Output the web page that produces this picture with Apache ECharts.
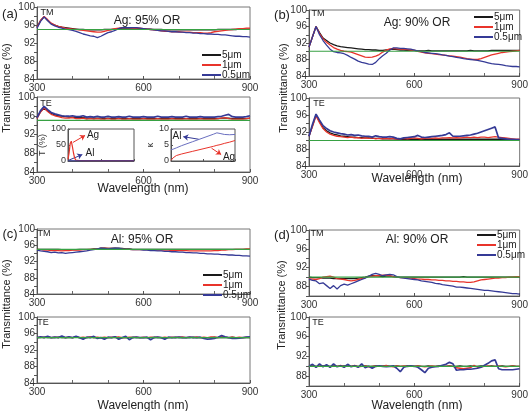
<!DOCTYPE html>
<html><head><meta charset="utf-8">
<script src="https://cdn.jsdelivr.net/npm/echarts@6/dist/echarts.min.js"></script>
<style>html,body{margin:0;padding:0;background:#fff}#c{width:531px;height:411px}</style>
</head><body><div id="c"></div>
<script>
// ---------- DATA ----------
const WL = [300,310,320,330,340,350,360,370,380,390,
  400,410,420,430,440,450,460,470,480,490,
  500,510,520,530,540,550,560,570,580,590,
  600,610,620,630,640,650,660,670,680,690,
  700,710,720,730,740,750,760,770,780,790,
  800,810,820,830,840,850,860,870,880,890,900];
const SERIES_NAMES = ['5μm','1μm','0.5μm'];
const refLevels = [95, 90, 95, 90]; // Ag95, Ag90, Al95, Al90

// (a) Ag 95% TM
const agTM95_5 = [95.5,97.0,97.8,97.0,96.3,96.0,95.7,95.5,95.4,95.3,
  95.2,95.1,95.0,95.0,94.9,94.9,94.9,94.9,94.9,95.0,
  95.0,95.0,95.1,95.2,95.3,95.3,95.3,95.3,95.3,95.2,
  95.2,95.1,95.1,95.0,95.0,95.0,94.9,94.9,94.9,94.9,
  94.9,94.9,94.9,94.9,94.9,94.9,94.9,94.9,94.9,94.9,
  94.9,95.0,95.0,95.0,95.0,95.0,95.0,95.1,95.1,95.1,95.1];
const agTM95_1 = [95.5,97.0,97.9,97.2,96.4,96.0,95.7,95.5,95.3,95.2,
  95.1,95.0,94.9,94.8,94.7,94.6,94.5,94.4,94.4,94.6,
  94.8,95.0,95.2,95.3,95.4,95.4,95.4,95.3,95.3,95.3,
  95.2,95.1,95.0,94.9,94.8,94.7,94.6,94.6,94.5,94.5,
  94.5,94.4,94.4,94.4,94.3,94.3,94.3,94.2,94.2,94.3,
  94.5,94.6,94.7,94.8,94.9,95.0,95.1,95.2,95.2,95.3,95.3];
const agTM95_05 = [95.3,96.8,97.8,97.0,96.2,95.8,95.5,95.3,95.1,95.0,
  94.8,94.6,94.3,94.0,93.8,93.6,93.5,93.2,93.5,93.9,
  94.3,94.5,94.8,95.2,95.4,95.4,95.4,95.4,95.4,95.3,
  95.2,95.1,95.0,94.9,94.8,94.7,94.7,94.6,94.5,94.5,
  94.4,94.4,94.3,94.3,94.2,94.2,94.1,94.1,94.0,94.0,
  93.9,93.9,93.8,93.8,93.7,93.6,93.5,93.5,93.4,93.4,93.3];
// (a) Ag 95% TE
const agTE95_5 = [95.5,96.9,97.6,97.0,96.5,96.2,96.0,95.9,95.8,95.7,
  95.7,95.6,95.6,95.6,95.5,95.5,95.5,95.5,95.5,95.4,
  95.5,95.4,95.4,95.5,95.4,95.4,95.4,95.4,95.4,95.4,
  95.4,95.4,95.4,95.4,95.4,95.4,95.4,95.4,95.4,95.4,
  95.4,95.4,95.4,95.4,95.4,95.4,95.4,95.4,95.4,95.4,
  95.4,95.4,95.5,95.5,95.5,95.4,95.4,95.4,95.4,95.4,95.5];
const agTE95_1 = [95.4,96.8,97.7,96.9,96.3,96.0,95.8,95.6,95.5,95.5,
  95.6,95.4,95.4,95.5,95.3,95.4,95.3,95.4,95.3,95.3,
  95.4,95.3,95.3,95.4,95.3,95.3,95.4,95.3,95.3,95.3,
  95.4,95.3,95.3,95.3,95.4,95.3,95.3,95.3,95.4,95.3,
  95.3,95.3,95.4,95.3,95.3,95.3,95.4,95.3,95.3,95.3,
  95.3,95.4,95.5,95.6,95.4,95.3,95.3,95.3,95.3,95.4,95.5];
const agTE95_05 = [95.6,97.1,98.0,97.3,96.7,96.4,96.2,96.0,95.9,95.9,
  96.0,95.8,95.8,96.0,95.7,95.8,95.7,95.9,95.7,95.7,
  95.9,95.7,95.7,95.8,95.7,95.7,95.9,95.7,95.7,95.7,
  95.8,95.7,95.7,95.7,95.9,95.7,95.7,95.7,95.8,95.7,
  95.7,95.7,95.9,95.7,95.7,95.7,95.8,95.7,95.7,95.7,
  95.7,95.8,95.9,96.1,96.3,95.8,95.7,95.7,95.7,95.8,96.0];
// (b) Ag 90% TM
const agTM90_5 = [91.0,93.5,96.0,94.5,93.2,92.6,92.0,91.6,91.3,91.1,
  91.0,90.9,90.8,90.7,90.6,90.5,90.4,90.4,90.3,90.3,
  90.2,90.2,90.3,90.4,90.5,90.4,90.3,90.3,90.2,90.2,
  90.2,90.1,90.1,90.1,90.2,90.1,90.1,90.1,90.1,90.1,
  90.1,90.1,90.1,90.1,90.1,90.1,90.2,90.1,90.1,90.1,
  90.1,90.1,90.2,90.2,90.2,90.2,90.2,90.2,90.2,90.2,90.2];
const agTM90_1 = [91.0,93.5,96.0,94.3,93.0,92.2,91.5,90.9,90.5,90.2,
  90.0,89.9,89.8,89.5,89.2,88.9,88.6,88.5,88.6,88.8,
  89.2,89.8,90.3,90.6,90.7,90.6,90.5,90.5,90.4,90.3,
  90.2,90.0,89.8,89.6,89.5,89.4,89.3,89.2,89.1,89.0,
  88.9,88.8,88.7,88.6,88.4,88.2,88.1,88.0,88.0,88.2,
  88.5,88.8,89.1,89.3,89.5,89.7,89.8,89.9,90.0,90.1,90.2];
const agTM90_05 = [91.0,93.5,96.0,94.0,92.6,91.5,90.5,89.9,89.7,89.6,
  89.4,89.0,88.5,88.1,87.6,87.3,87.1,86.9,86.8,87.3,
  88.2,88.9,89.5,90.3,90.8,90.8,90.7,90.7,90.6,90.5,
  90.3,90.1,89.9,89.7,89.6,89.5,89.4,89.3,89.1,89.0,
  88.8,88.7,88.5,88.4,88.2,88.1,88.0,87.9,87.8,87.6,
  87.4,87.2,87.0,86.9,86.8,86.7,86.5,86.4,86.3,86.3,86.2];
// (b) Ag 90% TE
const agTE90_5 = [91.0,93.5,96.0,94.5,93.0,92.3,91.8,91.5,91.3,91.1,
  91.0,90.9,90.8,90.8,90.7,90.7,90.6,90.6,90.5,90.5,
  90.5,90.4,90.4,90.4,90.4,90.3,90.3,90.3,90.3,90.3,
  90.3,90.3,90.3,90.3,90.3,90.3,90.3,90.3,90.3,90.3,
  90.3,90.3,90.3,90.3,90.3,90.3,90.3,90.3,90.3,90.3,
  90.3,90.3,90.3,90.3,90.3,90.3,90.2,90.2,90.2,90.2,90.2];
const agTE90_1 = [91.0,93.3,95.8,94.2,92.8,92.0,91.5,91.2,91.0,90.9,
  90.8,90.7,90.8,90.6,90.7,90.5,90.6,90.5,90.6,90.4,
  90.5,90.4,90.5,90.4,90.5,90.3,90.4,90.5,90.4,90.5,
  90.6,90.5,90.4,90.5,90.6,90.5,90.6,90.5,90.6,90.6,
  90.7,90.6,90.7,90.6,90.7,90.8,90.7,90.8,90.7,90.8,
  90.8,90.7,90.8,90.9,90.8,90.7,90.6,90.5,90.4,90.3,90.3];
const agTE90_05 = [91.0,93.8,96.2,94.8,93.5,92.8,92.3,92.0,91.8,91.6,
  91.5,91.3,91.4,91.2,91.3,91.1,91.0,91.0,90.8,91.1,
  90.9,90.8,90.8,90.9,90.8,90.5,90.4,90.6,90.7,90.8,
  90.9,91.2,90.8,90.7,90.8,90.9,91.0,91.1,91.2,91.4,
  91.8,91.0,91.0,91.0,91.1,91.2,91.3,91.5,91.7,92.0,
  92.3,92.6,92.9,93.2,90.6,90.5,90.4,90.3,90.3,90.2,90.2];
// (c) Al 95% TM
const alTM95_5 = [95.0,95.0,95.0,95.0,95.0,95.0,95.0,94.9,94.9,94.9,
  94.9,94.9,95.0,95.0,95.0,95.0,95.1,95.1,95.3,95.3,
  95.2,95.2,95.3,95.3,95.2,95.1,95.1,95.0,95.0,95.0,
  95.0,95.0,95.0,95.0,95.0,95.0,95.0,95.0,95.0,95.0,
  95.0,95.0,95.0,95.0,95.0,95.0,95.0,95.0,95.0,95.0,
  95.0,95.0,95.0,95.0,95.0,95.0,95.0,95.0,95.0,95.0,95.0];
const alTM95_1 = [95.0,94.9,94.8,94.8,94.7,94.7,94.7,94.6,94.7,94.7,
  94.8,94.8,94.8,94.9,94.9,95.0,95.0,95.1,95.2,95.3,
  95.2,95.2,95.2,95.1,95.1,95.0,95.0,94.9,94.9,94.9,
  94.9,94.9,94.8,94.8,94.8,94.8,94.8,94.8,94.7,94.7,
  94.7,94.7,94.7,94.6,94.6,94.6,94.6,94.6,94.6,94.6,
  94.7,94.7,94.8,94.8,94.9,94.9,95.0,95.0,95.0,95.1,95.1];
const alTM95_05 = [94.8,94.6,94.5,94.4,94.2,94.3,94.1,94.2,94.0,94.1,
  94.2,94.3,94.4,94.5,94.6,94.8,94.9,95.1,95.3,95.2,
  95.1,95.2,95.3,95.2,95.1,95.0,95.0,94.9,94.9,94.9,
  94.8,94.8,94.7,94.7,94.6,94.6,94.5,94.5,94.4,94.4,
  94.3,94.3,94.2,94.2,94.1,94.1,94.0,94.0,93.9,93.9,
  93.8,93.8,93.7,93.7,93.6,93.6,93.5,93.5,93.4,93.4,93.3];
// (c) Al 95% TE
const alTE95_5 = [95.0,95.0,95.1,95.0,95.0,95.0,95.1,95.0,95.0,95.0,
  95.0,95.1,95.0,95.0,95.0,95.1,95.0,95.0,95.0,95.0,
  95.0,95.0,95.1,95.0,95.0,95.0,95.0,95.1,95.0,95.0,
  95.0,95.0,95.0,95.1,95.0,95.0,95.0,95.0,95.0,95.1,
  95.0,95.0,95.0,95.0,95.1,95.0,95.0,95.0,95.0,95.0,
  95.1,95.0,95.0,95.0,95.0,95.1,95.0,95.0,95.0,95.0,95.0];
const alTE95_1 = [95.0,95.1,95.0,95.2,95.0,95.1,95.0,95.2,95.0,95.1,
  95.0,95.1,95.0,95.1,95.0,95.2,95.0,95.1,95.0,95.1,
  95.0,95.1,95.0,95.2,95.0,95.0,95.1,95.0,95.1,95.0,
  95.1,95.0,95.1,95.0,95.1,95.0,95.1,95.0,95.1,95.0,
  95.1,95.2,95.0,95.1,95.0,95.2,95.0,95.1,95.0,95.2,
  95.1,95.0,95.3,95.1,95.0,95.1,95.0,95.1,95.0,95.1,95.0];
const alTE95_05 = [95.0,95.2,95.0,95.3,95.0,95.1,95.0,95.4,95.0,95.2,
  95.0,95.3,95.0,94.6,95.1,95.0,95.3,94.8,95.0,94.6,
  95.1,95.0,95.2,94.6,95.0,95.3,94.5,95.0,95.1,95.0,
  95.0,95.1,94.5,95.0,95.1,95.0,94.6,95.1,95.0,95.0,
  95.1,95.0,95.0,95.1,95.0,95.0,95.1,94.8,94.6,94.7,
  94.8,95.1,95.5,95.2,95.0,94.8,94.8,94.9,95.0,95.1,95.2];
// (d) Al 90% TM
const alTM90_5 = [90.0,89.9,89.9,89.9,89.8,89.8,89.8,89.7,89.7,89.7,
  89.7,89.7,89.7,89.7,89.8,89.9,90.0,90.2,90.3,90.3,
  90.2,90.1,90.2,90.2,90.1,90.0,90.0,90.0,90.0,90.0,
  90.0,90.0,90.0,90.0,90.0,90.0,90.0,90.0,90.0,90.0,
  90.0,90.0,90.0,90.0,90.1,90.0,90.0,90.0,90.0,90.0,
  90.0,90.0,90.0,90.0,90.0,90.0,90.0,90.0,90.0,90.0,90.0];
const alTM90_1 = [89.7,89.6,89.5,89.7,90.0,90.1,90.2,90.0,89.7,89.6,
  89.5,89.3,89.2,89.3,89.5,89.7,89.9,90.1,90.2,90.3,
  90.3,90.4,90.4,90.3,90.1,90.0,89.9,89.9,89.8,89.8,
  89.7,89.6,89.6,89.5,89.5,89.4,89.4,89.3,89.3,89.2,
  89.2,89.1,89.1,89.0,89.0,88.9,88.9,89.0,89.2,89.4,
  89.5,89.6,89.7,89.8,89.8,89.9,89.9,90.0,90.0,90.1,90.1];
const alTM90_05 = [89.6,89.3,89.2,88.6,88.8,88.2,87.6,88.2,87.5,88.2,
  88.5,88.3,88.6,88.9,89.2,89.5,89.8,90.2,90.6,90.8,
  90.6,90.3,90.5,90.6,90.5,90.1,89.9,89.8,89.7,89.6,
  89.5,89.4,89.2,89.1,89.0,88.9,88.7,88.6,88.4,88.3,
  88.2,88.1,87.9,87.9,87.8,87.7,87.6,87.5,87.4,87.3,
  87.2,87.2,87.1,87.0,86.9,86.8,86.7,86.6,86.5,86.5,86.4];
// (d) Al 90% TE
const alTE90_5 = [90.0,90.1,90.0,90.0,90.1,90.0,90.0,90.1,90.0,90.0,
  90.1,90.0,90.0,90.1,90.0,90.0,90.1,90.0,90.0,90.1,
  90.0,90.0,90.1,90.0,90.0,90.1,90.0,90.0,90.1,90.0,
  90.0,90.1,90.0,90.0,90.1,90.0,90.0,90.1,90.0,90.0,
  90.1,90.0,90.0,90.1,90.0,90.0,90.1,90.0,90.0,90.1,
  90.0,90.0,90.1,90.0,90.0,90.1,90.0,90.0,90.1,90.0,90.0];
const alTE90_1 = [90.0,90.2,89.9,90.1,90.0,90.2,89.9,90.1,90.0,90.2,
  89.9,90.1,90.0,90.2,89.9,90.0,90.1,89.9,90.0,90.1,
  90.0,90.1,90.2,90.0,89.9,90.1,90.0,90.1,90.0,90.1,
  90.0,90.1,90.0,89.9,90.0,90.1,90.0,90.0,90.1,90.0,
  90.1,90.0,89.7,89.6,89.5,89.6,89.7,90.2,89.8,89.9,
  90.0,90.1,90.0,90.0,90.1,90.0,89.9,90.0,90.1,90.0,90.0];
const alTE90_05 = [90.0,90.4,89.8,90.5,89.9,90.3,89.8,90.5,89.9,90.1,
  89.8,90.4,89.9,90.1,89.8,90.5,89.7,90.0,89.6,90.0,
  90.1,90.0,89.9,90.0,90.1,89.6,88.9,89.8,90.0,90.1,
  90.0,89.8,89.3,88.7,89.6,89.8,89.9,90.0,90.2,90.4,
  90.8,90.5,89.2,89.3,89.3,89.4,89.4,89.5,89.6,89.8,
  90.2,90.6,91.1,91.3,89.5,89.3,89.3,89.3,89.3,89.4,89.5];

// insets: transmission T(%) of thin films, and extinction coefficient k
const insetWL = [300,310,320,330,340,350,360,370,380,400,450,500,600,700,800,900];
const agT = [5,25,55,62,45,25,10,3,2,1.5,1.2,1,1,1,1,1];
const alT = [0.5,0.5,0.5,0.5,0.5,0.5,0.5,0.5,0.5,0.5,0.5,0.5,0.5,0.5,0.5,0.5];
const kWL = [300,310,320,330,350,400,500,600,700,730,760,800,850,900];
const alK = [3.5,3.6,3.7,3.8,4.1,4.8,6.0,7.2,8.4,8.8,8.6,8.3,8.2,8.3];
const agK = [0.2,0.6,1.0,1.3,1.7,2.2,3.0,3.8,4.6,4.9,5.1,5.5,5.9,6.4];

// ---------- CHART ----------
const FONT = 'Liberation Sans, Arial, sans-serif';
const COLORS = ['#1a1a1a', '#e8342b', '#353a96'];
const GREEN = '#37a143';
const pairs = (xs, ys) => xs.map((x, i) => [x, ys[i]]);

const panels = [
  {g:{left:37, top:7,   width:213, height:72}, ymin:84, ref:0, d:[agTM95_5, agTM95_1, agTM95_05], te:false},
  {g:{left:37, top:97,  width:213, height:75}, ymin:84, ref:0, d:[agTE95_5, agTE95_1, agTE95_05], te:true},
  {g:{left:309,top:10,  width:214, height:66}, ymin:84, ref:1, d:[agTM90_5, agTM90_1, agTM90_05], te:false},
  {g:{left:309,top:98,  width:214, height:68}, ymin:84, ref:1, d:[agTE90_5, agTE90_1, agTE90_05], te:true},
  {g:{left:37, top:229, width:213, height:65}, ymin:84, ref:2, d:[alTM95_5, alTM95_1, alTM95_05], te:false},
  {g:{left:37, top:317, width:213, height:66}, ymin:84, ref:2, d:[alTE95_5, alTE95_1, alTE95_05], te:true},
  {g:{left:309,top:230, width:214, height:66}, ymin:86, ref:3, d:[alTM90_5, alTM90_1, alTM90_05], te:false},
  {g:{left:309,top:317, width:214, height:69}, ymin:86, ref:3, d:[alTE90_5, alTE90_1, alTE90_05], te:true}
];

const grids = [], xAxes = [], yAxes = [], series = [];
panels.forEach((p, i) => {
  grids.push(Object.assign({show:true, borderColor:'#777', borderWidth:1, backgroundColor:'#fff'}, p.g));
  xAxes.push({type:'value', gridIndex:i, min:300, max:900, interval:300,
    axisLine:{lineStyle:{color:'#555'}}, axisTick:{inside:true, length:3, lineStyle:{color:'#555'}},
    minorTick:{show:true, splitNumber:3, length:3, lineStyle:{color:'#666'}},
    axisLabel:{fontSize:10, color:'#333', margin:4, fontFamily:FONT},
    splitLine:{show:false}});
  yAxes.push({type:'value', gridIndex:i, min:p.ymin, max:100, interval:2,
    axisLine:{lineStyle:{color:'#555'}}, axisTick:{length:3, lineStyle:{color:'#555'}},
    axisLabel:{fontSize:10, color:'#333', margin:2, fontFamily:FONT, formatter:v => (v % 4 === 0 ? String(v) : '')},
    splitLine:{show:false}});
  p.d.forEach((vals, k) => {
    series.push({type:'line', name:SERIES_NAMES[k], xAxisIndex:i, yAxisIndex:i, data:pairs(WL, vals),
      showSymbol:false, symbol:'none', lineStyle:{width:(p.te && k===2) ? 1.7 : 1.3, color:COLORS[k]},
      itemStyle:{color:COLORS[k]}});
  });
  const r = refLevels[p.ref];
  series.push({type:'line', xAxisIndex:i, yAxisIndex:i, data:[[WL[0], r],[WL[WL.length-1], r]],
    showSymbol:false, symbol:'none', lineStyle:{width:1.2, color:GREEN}, silent:true});
});

// insets
const insets = [
  {g:{left:68, top:129, width:66, height:32}, ymax:100, yint:50, name:'T (%)', gap:17},
  {g:{left:171,top:129, width:64, height:32}, ymax:10, yint:5, name:'κ', gap:15}
];
insets.forEach((q, j) => {
  const i = panels.length + j;
  grids.push(Object.assign({show:true, borderColor:'#555', borderWidth:1, backgroundColor:'#fff', z:5}, q.g));
  xAxes.push({type:'value', gridIndex:i, min:300, max:900, interval:300, z:6,
    axisLine:{lineStyle:{color:'#555'}}, axisTick:{inside:true, length:2}, axisLabel:{show:false}, splitLine:{show:false}});
  yAxes.push({type:'value', gridIndex:i, min:0, max:q.ymax, interval:q.yint, z:6,
    name:q.name, nameLocation:'middle', nameGap:q.gap, nameRotate:90,
    nameTextStyle:{fontSize:9, color:'#333', fontFamily:FONT},
    axisLine:{lineStyle:{color:'#555'}}, axisTick:{inside:true, length:2},
    axisLabel:{fontSize:9, color:'#333', margin:2, fontFamily:FONT}, splitLine:{show:false}});
});
const arrow = (c, a, b) => ({silent:true, symbol:['none','arrow'], symbolSize:5, label:{show:false},
  lineStyle:{color:c, width:1, type:'solid'}, data:[[{coord:a},{coord:b}]]});
series.push({type:'line', xAxisIndex:8, yAxisIndex:8, data:pairs(insetWL, agT), showSymbol:false, symbol:'none', z:7,
  lineStyle:{width:1.2, color:COLORS[1]}, markLine:arrow(COLORS[1], [345,58], [455,80])});
series.push({type:'line', xAxisIndex:8, yAxisIndex:8, data:pairs(insetWL, alT), showSymbol:false, symbol:'none', z:7,
  lineStyle:{width:1.2, color:COLORS[2]}, markLine:arrow(COLORS[2], [310,3], [430,20])});
series.push({type:'line', xAxisIndex:9, yAxisIndex:9, data:pairs(kWL, alK), showSymbol:false, symbol:'none', z:7,
  lineStyle:{width:1, color:'#6a6fc0'}, markLine:arrow(COLORS[2], [560,6.8], [415,7.6])});
series.push({type:'line', xAxisIndex:9, yAxisIndex:9, data:pairs(kWL, agK), showSymbol:false, symbol:'none', z:7,
  lineStyle:{width:1, color:COLORS[1]}, markLine:arrow(COLORS[1], [680,4.0], [770,2.0])});

const legendPos = [{left:202, top:50, lh:8}, {left:474, top:12, lh:8.5}, {left:203, top:270, lh:7}, {left:477, top:230, lh:6.7}];
const legends = legendPos.map(L => ({orient:'vertical', left:L.left, top:L.top, padding:0, itemGap:0,
  itemWidth:19, itemHeight:2, icon:'rect', data:SERIES_NAMES, selectedMode:false,
  textStyle:{fontSize:10, color:'#222', fontFamily:FONT, lineHeight:L.lh, padding:[0,0,0,-4]}}));

const T = (text, x, y, size, opts) => Object.assign({type:'text', x:x, y:y, z:20,
  style:{text:text, fontSize:size, fontFamily:FONT, fill:'#222', align:'center', verticalAlign:'middle'}}, opts || {});
const graphic = [
  T('(a)', 10, 14, 13), T('(b)', 282, 15, 13), T('(c)', 10, 234, 13), T('(d)', 282, 235, 13),
  T('Ag: 95% OR', 147, 21, 12), T('Ag: 90% OR', 417, 23, 12), T('Al: 95% OR', 142, 240, 12), T('Al: 90% OR', 417, 240, 12),
  T('TM', 47, 13, 9), T('TE', 46, 104, 9), T('TM', 318, 14, 9), T('TE', 319, 104, 9),
  T('TM', 44, 234, 9), T('TE', 43, 323, 9), T('TM', 317, 234, 9), T('TE', 318, 323, 9),
  T('Transmittance (%)', 7, 88, 11, {rotation:Math.PI/2}), T('Transmittance (%)', 284, 88, 11, {rotation:Math.PI/2}),
  T('Transmittance (%)', 7, 304, 11, {rotation:Math.PI/2}), T('Transmittance (%)', 282, 305, 11, {rotation:Math.PI/2}),
  T('Wavelength (nm)', 143, 189, 12), T('Wavelength (nm)', 417, 179, 12),
  T('Wavelength (nm)', 143, 406, 12), T('Wavelength (nm)', 417, 406, 12),
  T('Ag', 93, 135, 10), T('Al', 90, 153, 10), T('Al', 177, 136, 10), T('Ag', 229, 157, 10)
];

const chart = echarts.init(document.getElementById('c'), null, {renderer:'canvas'});
chart.setOption({animation:false, backgroundColor:'#fff', grid:grids, xAxis:xAxes, yAxis:yAxes,
  series:series, legend:legends, graphic:graphic, tooltip:{show:false}});
</script></body></html>
